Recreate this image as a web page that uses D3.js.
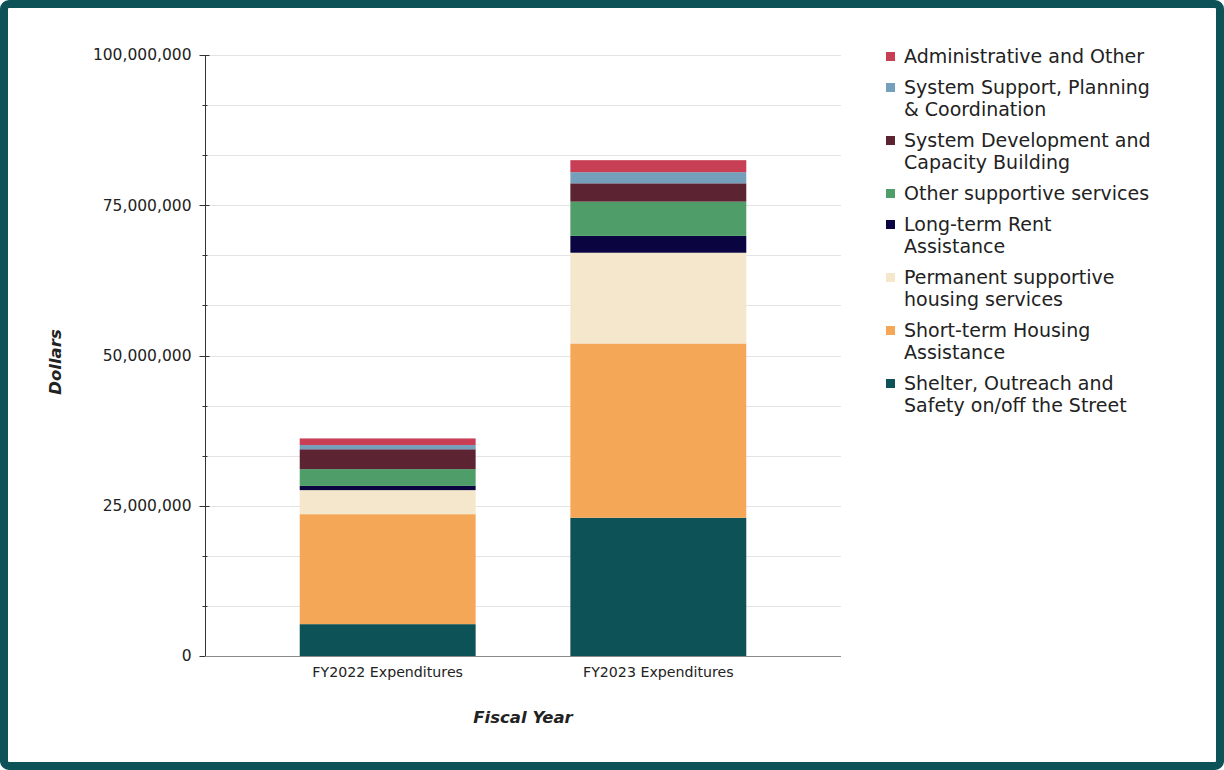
<!DOCTYPE html>
<html>
<head>
<meta charset="utf-8">
<script src="https://cdn.jsdelivr.net/npm/d3@7"></script>
<style>
  html, body { margin: 0; padding: 0; background: #fff; }
  svg { display: block; }
  text { font-family: "DejaVu Sans", Verdana, sans-serif; fill: #222; }
</style>
</head>
<body>
<svg id="chart" width="1224" height="770"></svg>
<script>
// Fiscal years shown along the x axis
const years = ["FY2022 Expenditures", "FY2023 Expenditures"];

// Spending categories, stacked bottom to top
const categories = [
  "Shelter, Outreach and Safety on/off the Street",
  "Short-term Housing Assistance",
  "Permanent supportive housing services",
  "Long-term Rent Assistance",
  "Other supportive services",
  "System Development and Capacity Building",
  "System Support, Planning & Coordination",
  "Administrative and Other"
];

// Legend wording, broken over lines
const legendLines = {
  "Administrative and Other": ["Administrative and Other"],
  "System Support, Planning & Coordination": ["System Support, Planning", "& Coordination"],
  "System Development and Capacity Building": ["System Development and", "Capacity Building"],
  "Other supportive services": ["Other supportive services"],
  "Long-term Rent Assistance": ["Long-term Rent", "Assistance"],
  "Permanent supportive housing services": ["Permanent supportive", "housing services"],
  "Short-term Housing Assistance": ["Short-term Housing", "Assistance"],
  "Shelter, Outreach and Safety on/off the Street": ["Shelter, Outreach and", "Safety on/off the Street"]
};

// Dollars per category, one value per fiscal year
const shelter      = [5300000, 23000000];
const shortTerm    = [18300000, 29000000];
const permanent    = [4000000, 15100000];
const longTerm     = [700000, 2800000];
const otherSupport = [2800000, 5700000];
const development  = [3300000, 3050000];
const support      = [700000, 1850000];
const admin        = [1100000, 2000000];

const colors = ["#0d5257", "#f4a857", "#f5e7cb", "#0a0541", "#4f9d69", "#5c2333", "#74a0bc", "#c73e55"];

// Major tick values printed on the y axis
const yTickLabels = [0, 25000000, 50000000, 75000000, 100000000];

const seriesValues = [shelter, shortTerm, permanent, longTerm, otherSupport, development, support, admin];
const rows = years.map((yr, i) => {
  const r = { year: yr };
  categories.forEach((c, k) => { r[c] = seriesValues[k][i]; });
  return r;
});

const svg = d3.select("#chart");
const W = 1224, H = 770;

// frame
svg.append("rect")
  .attr("x", 4).attr("y", 4).attr("width", W - 8).attr("height", H - 8)
  .attr("rx", 5)
  .attr("fill", "#fff").attr("stroke", "#0d5257").attr("stroke-width", 8);

const plotLeft = 205, plotRight = 841, plotTop = 55, plotBottom = 656;

const x = d3.scaleBand().domain(years).range([plotLeft, plotRight]).padding(0.35);
const y = d3.scaleLinear().domain([0, 100000000]).range([plotBottom, plotTop]);

const allTicks = d3.range(0, 100000001, 25000000 / 3);

// gridlines
svg.append("g").selectAll("line")
  .data(allTicks.filter(t => t > 0))
  .join("line")
  .attr("x1", plotLeft).attr("x2", plotRight)
  .attr("y1", d => Math.round(y(d)) + 0.5).attr("y2", d => Math.round(y(d)) + 0.5)
  .attr("stroke", "#e4e4e4").attr("stroke-width", 1);

// stacked bars
const stack = d3.stack().keys(categories);
const layers = stack(rows);

svg.append("g").selectAll("g")
  .data(layers)
  .join("g")
  .attr("fill", (d, i) => colors[i])
  .selectAll("rect")
  .data(d => d)
  .join("rect")
  .attr("x", d => x(d.data.year))
  .attr("width", x.bandwidth())
  .attr("y", d => y(d[1]))
  .attr("height", d => y(d[0]) - y(d[1]));

// y axis: major ticks with labels, minor ticks between
const yAxis = svg.append("g").attr("transform", `translate(${plotLeft + 0.5},0)`);
yAxis.append("line").attr("y1", plotTop).attr("y2", plotBottom).attr("stroke", "#333");
yAxis.selectAll("line.tick")
  .data(allTicks)
  .join("line")
  .attr("class", "tick")
  .attr("x1", d => yTickLabels.includes(Math.round(d)) ? -6 : -3)
  .attr("x2", d => yTickLabels.includes(Math.round(d)) ? 4 : 2)
  .attr("y1", d => Math.round(y(d)) + 0.5).attr("y2", d => Math.round(y(d)) + 0.5)
  .attr("stroke", "#333");
yAxis.selectAll("text")
  .data(yTickLabels)
  .join("text")
  .attr("x", -14)
  .attr("y", d => y(d))
  .attr("dy", "0.35em")
  .attr("text-anchor", "end")
  .style("font-size", "15.5px")
  .text(d => d3.format(",")(d));

// x axis baseline and labels
svg.append("line")
  .attr("x1", plotLeft).attr("x2", plotRight)
  .attr("y1", plotBottom + 0.5).attr("y2", plotBottom + 0.5)
  .attr("stroke", "#8a8a8a");
svg.append("g").selectAll("text")
  .data(years)
  .join("text")
  .attr("x", d => x(d) + x.bandwidth() / 2)
  .attr("y", plotBottom + 21)
  .attr("text-anchor", "middle")
  .style("font-size", "14.2px")
  .text(d => d);

// axis titles
svg.append("text")
  .attr("x", (plotLeft + plotRight) / 2).attr("y", 723)
  .attr("text-anchor", "middle")
  .style("font-size", "16.5px").style("font-weight", "bold").style("font-style", "italic")
  .text("Fiscal Year");
svg.append("text")
  .attr("transform", "translate(61,362) rotate(-90)")
  .attr("text-anchor", "middle")
  .style("font-size", "16.5px").style("font-weight", "bold").style("font-style", "italic")
  .text("Dollars");

// legend, top category first
const legend = svg.append("g");
let ly = 56;
categories.slice().reverse().forEach((c) => {
  const i = categories.indexOf(c);
  const lines = legendLines[c];
  const g = legend.append("g").attr("transform", `translate(886,${ly})`);
  g.append("rect").attr("x", 0).attr("y", -4).attr("width", 9).attr("height", 9).attr("fill", colors[i]);
  lines.forEach((t, j) => {
    g.append("text")
      .attr("x", 18).attr("y", j * 22)
      .attr("dy", "0.36em")
      .style("font-size", "19px")
      .text(t);
  });
  ly += lines.length * 22 + 9;
});
</script>
</body>
</html>
